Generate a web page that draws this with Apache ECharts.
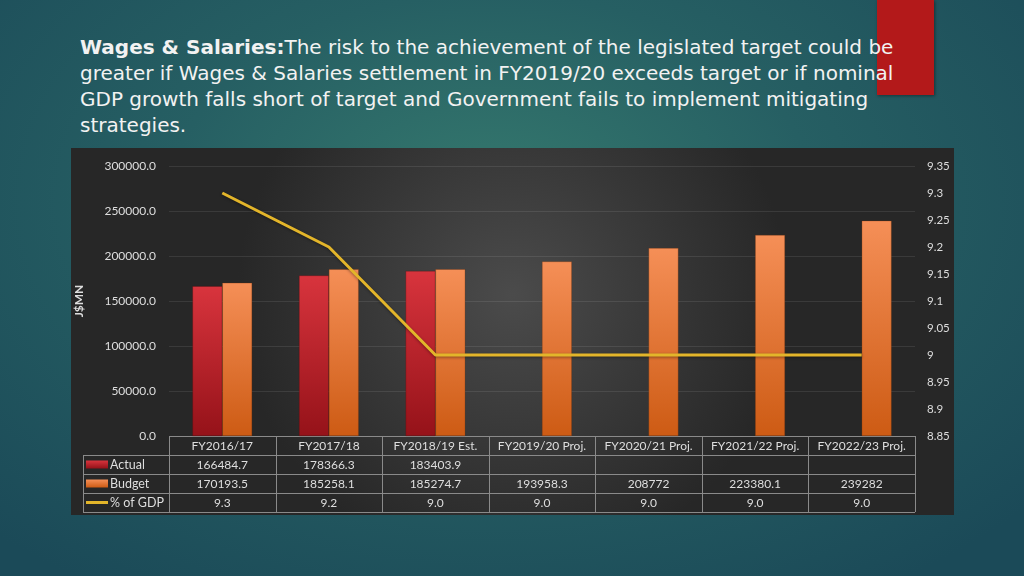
<!DOCTYPE html>
<html>
<head>
<meta charset="utf-8">
<script src="https://cdn.jsdelivr.net/npm/echarts@6/dist/echarts.min.js"></script>
<style>
  html, body { margin: 0; padding: 0; }
  body {
    width: 1024px; height: 576px; overflow: hidden; position: relative;
    background: radial-gradient(ellipse 70% 80% at 48% 35%, #35796e 0%, #265f63 45%, #1b4a58 100%);
    font-family: "Lato", "Open Sans", sans-serif;
  }
  .redbox { position: absolute; left: 877px; top: 0; width: 57px; height: 95px; background: #b3191a; box-shadow: 1px 1px 3px rgba(0,0,0,0.4); }
  .title {
    position: absolute; left: 80px; top: 34px;
    color: #f2f2f2; font-family: "DejaVu Sans", sans-serif; font-size: 20px; line-height: 26px; letter-spacing: 0;
    white-space: nowrap;
  }
  .title b { font-weight: bold; }
  #main { position: absolute; left: 71px; top: 148px; width: 883px; height: 367px; }
</style>
</head>
<body>
<div class="redbox"></div>
<div class="title"><b>Wages &amp; Salaries:</b>The risk to the achievement of the legislated target could be<br>greater if Wages &amp; Salaries settlement in FY2019/20 exceeds target or if nominal<br>GDP growth falls short of target and Government fails to implement mitigating<br>strategies.</div>
<div id="main"></div>
<script>
// 数据
let categories = ["FY2016/17","FY2017/18","FY2018/19 Est.","FY2019/20 Proj.","FY2020/21 Proj.","FY2021/22 Proj.","FY2022/23 Proj."]
let actual = [166484.7, 178366.3, 183403.9, null, null, null, null]
let budget = [170193.5, 185258.1, 185274.7, 193958.3, 208772, 223380.1, 239282]
let gdpPct = [9.3, 9.2, 9.0, 9.0, 9.0, 9.0, 9.0]
let seriesNames = ["Actual", "Budget", "% of GDP"]

let W = 883, H = 367
let gLeft = 98, gRight = 39, gTop = 18, gBottom = 79
let rowH = 19
let textColor = "#dedede"
let lineColor = "#8a8a8a"

var myChart = echarts.init(document.getElementById('main'), null, {width: W, height: H});

function rowAxis(data, offset) {
    return {
        type: 'category', gridIndex: 0, position: 'bottom', offset: offset,
        data: data.map(v => v == null ? '' : String(v)),
        axisLine: {show: false}, axisTick: {show: false}, splitLine: {show: false},
        axisLabel: {color: textColor, fontSize: 12, margin: 4, interval: 0, fontFamily: 'Lato'}
    }
}

let redGrad = () => new echarts.graphic.LinearGradient(0, 0, 0, 1, [{offset: 0, color: '#d8343d'}, {offset: 1, color: '#951219'}])
let orangeGrad = () => new echarts.graphic.LinearGradient(0, 0, 0, 1, [{offset: 0, color: '#f58f57'}, {offset: 1, color: '#cd5b14'}])

var option = {
    backgroundColor: new echarts.graphic.RadialGradient(0.5, 0.4, 0.75, [
        {offset: 0, color: '#4b4b4b'},
        {offset: 1, color: '#272727'}
    ]),
    textStyle: {fontFamily: 'Lato'},
    grid: {left: gLeft, right: gRight, top: gTop, bottom: gBottom, outerBoundsMode: 'none', containLabel: false},
    xAxis: [
        {
            type: 'category', data: categories, position: 'bottom',
            axisLine: {show: false}, axisTick: {show: false},
            axisLabel: {color: textColor, fontSize: 12, margin: 4, interval: 0, fontFamily: 'Lato'}
        },
        rowAxis(actual.map(v => v == null ? null : v.toFixed(1)), rowH),
        rowAxis(budget, rowH * 2),
        rowAxis(gdpPct.map(v => v.toFixed(1)), rowH * 3)
    ],
    yAxis: [
        {
            type: 'value', min: 0, max: 300000, interval: 50000,
            name: 'J$MN', nameLocation: 'middle', nameGap: 84, nameRotate: 90,
            nameTextStyle: {color: textColor, fontWeight: 'bold', fontSize: 12},
            axisLabel: {color: textColor, fontSize: 12, margin: 13, formatter: v => v.toFixed(1)},
            axisLine: {show: false}, axisTick: {show: false},
            splitLine: {lineStyle: {color: 'rgba(255,255,255,0.09)', width: 1}}
        },
        {
            type: 'value', min: 8.85, max: 9.35, interval: 0.05, position: 'right',
            axisLabel: {color: textColor, fontSize: 11.5, margin: 12, formatter: v => String(parseFloat(v.toFixed(2)))},
            axisLine: {show: false}, axisTick: {show: false}, splitLine: {show: false}
        }
    ],
    series: [
        {
            name: seriesNames[0], type: 'bar', data: actual,
            barGap: 0, barCategoryGap: '44%',
            itemStyle: {color: redGrad(), borderColor: 'rgba(90,10,10,0.6)', borderWidth: 0.5}
        },
        {
            name: seriesNames[1], type: 'bar', data: budget,
            itemStyle: {color: orangeGrad(), borderColor: 'rgba(120,50,10,0.6)', borderWidth: 0.5}
        },
        {
            name: seriesNames[2], type: 'line', yAxisIndex: 1, data: gdpPct,
            symbol: 'none', z: 5,
            lineStyle: {color: '#e3b52a', width: 3, shadowColor: 'rgba(0,0,0,0.4)', shadowBlur: 3, shadowOffsetY: 1}
        }
    ]
};
myChart.setOption(option);

// 数据表的格子线和图例
function drawTable() {
    let rect = myChart.getModel().getComponent('grid').coordinateSystem.getRect()
    let x0 = rect.x, x1 = rect.x + rect.width, yTop = rect.y + rect.height
    let legendLeft = 12
    let n = categories.length
    let band = (x1 - x0) / n
    let els = []
    let stroke = {stroke: lineColor, lineWidth: 1}
    // 横线
    els.push({type: 'line', shape: {x1: x0, y1: yTop + 0.5, x2: x1, y2: yTop + 0.5}, style: stroke})
    for (let r = 1; r <= 4; r++) {
        let y = Math.round(yTop + r * rowH) + 0.5
        els.push({type: 'line', shape: {x1: legendLeft, y1: y, x2: x1, y2: y}, style: stroke})
    }
    // 竖线
    for (let c = 0; c <= n; c++) {
        let x = Math.round(x0 + c * band) + 0.5
        els.push({type: 'line', shape: {x1: x, y1: yTop, x2: x, y2: yTop + rowH * 4}, style: stroke})
    }
    els.push({type: 'line', shape: {x1: legendLeft + 0.5, y1: yTop + rowH, x2: legendLeft + 0.5, y2: yTop + rowH * 4}, style: stroke})
    // 图例
    let swatch = [redGrad(), orangeGrad()]
    for (let i = 0; i < 3; i++) {
        let cy = yTop + rowH * (i + 1) + rowH / 2
        if (i < 2) {
            els.push({type: 'rect', shape: {x: legendLeft + 3, y: cy - 4, width: 22, height: 8}, style: {fill: swatch[i]}})
        } else {
            els.push({type: 'line', shape: {x1: legendLeft + 3, y1: cy, x2: legendLeft + 25, y2: cy}, style: {stroke: '#e3b52a', lineWidth: 3}})
        }
        els.push({type: 'text', x: legendLeft + 27, y: cy, style: {text: seriesNames[i], fill: textColor, fontSize: 12.5, fontFamily: 'Lato', verticalAlign: 'middle'}})
    }
    myChart.setOption({graphic: els})
}
drawTable()
</script>
</body>
</html>
